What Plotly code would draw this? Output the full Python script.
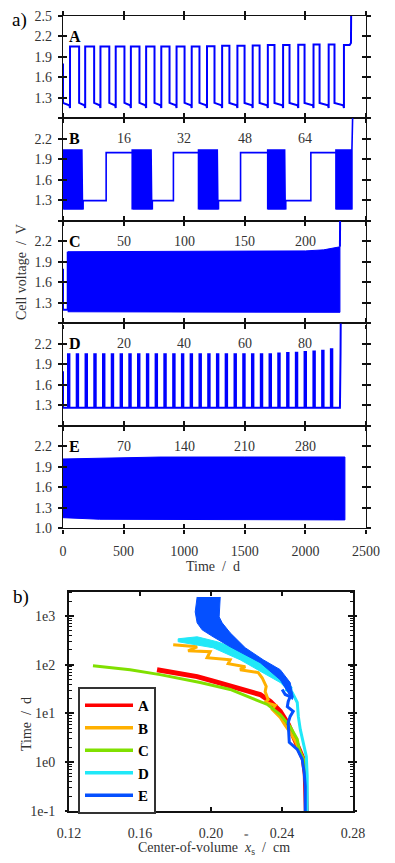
import plotly.graph_objects as go

# ---------------- panel a) data (time in d, voltage in V) ----------------
A_charge_on = [58, 183, 309, 435, 560, 686, 811, 937, 1062, 1188, 1313, 1439,
               1565, 1690, 1816, 1941, 2067, 2192, 2318]
A_charge_off = [133, 257, 382, 507, 631, 755, 879, 1003, 1126, 1250, 1373, 1498,
                1622, 1745, 1869, 1993, 2117, 2240, 2365]
A_charge_v = [2.05, 2.05, 2.05, 2.05, 2.05, 2.05, 2.05, 2.05, 2.05, 2.055, 2.06,
              2.06, 2.065, 2.07, 2.07, 2.075, 2.08, 2.08, 2.07]
A_discharge_v = [1.225, 1.19, 1.15]      # start, end, end-hook
A_end = 2376

B_burst_on = [0, 571, 1118, 1689, 2252]
B_burst_off = [166, 737, 1283, 1838, 2384]
B_burst_cycles = [16, 16, 16, 16, 16]
B_charge_step = [356, 911, 1465, 2045]
B_levels = {"charge": 2.047, "dis": 1.2, "hook": 1.165, "rest_low": 1.295, "rest_high": 1.997}

C_t = [39, 600, 1200, 1800, 2000, 2150, 2230, 2285]
C_top = [2.048, 2.05, 2.052, 2.055, 2.06, 2.075, 2.1, 2.12]
C_bot = [1.17, 1.165, 1.162, 1.162, 1.162, 1.162, 1.162, 1.162]
C_end = 2285

D_pulse_on = [41, 113, 186, 258, 330, 402, 475, 547, 619, 692, 764, 836, 909, 981,
              1053, 1126, 1198, 1270, 1342, 1415, 1487, 1559, 1632, 1704, 1776,
              1849, 1921, 1993, 2066, 2138, 2210]
D_peak_v = [2.05] * 24 + [2.06, 2.065, 2.07, 2.08, 2.09, 2.1, 2.12]
D_low_v = 1.267
D_pulse_w = 12
D_end = 2285

E_t = [0, 300, 800, 1500, 2326]
E_top = [2.016, 2.03, 2.044, 2.045, 2.045]
E_bot = [1.157, 1.134, 1.126, 1.124, 1.124]

cycle_labels = {
    "B": ["16", "32", "48", "64"],
    "C": ["50", "100", "150", "200"],
    "D": ["20", "40", "60", "80"],
    "E": ["70", "140", "210", "280"],
}
label_times = [500, 1000, 1500, 2000]

# ---------------- panel b) data (center-of-volume in cm, time in d) ----------------
bA_x = [0.1696, 0.1826, 0.1922, 0.2023, 0.2108, 0.2193, 0.2277, 0.2334, 0.2390,
        0.2435, 0.2469, 0.2492, 0.2520, 0.2531, 0.2537]
bA_t = [79, 65, 57, 45, 37, 31, 24.4, 17.6, 11, 6.0, 3.24, 2.0, 1.15, 0.57, 0.1]

bB_x = [0.1787, 0.1922, 0.1871, 0.1995, 0.1978, 0.2108, 0.2097, 0.2193, 0.2164,
        0.2266, 0.2288, 0.2311, 0.2305, 0.2322, 0.2305, 0.2362, 0.2345, 0.2390,
        0.2418, 0.2446, 0.2475, 0.2497, 0.2520, 0.2531, 0.2537]
bB_t = [256, 233, 193, 184, 139, 126, 105, 91, 79, 69, 54, 36, 28, 19.3, 16.8,
        14.6, 12.1, 8.3, 5.7, 4.1, 2.7, 1.84, 1.15, 0.57, 0.1]

bC_x = [0.1335, 0.1544, 0.1713, 0.1939, 0.2108, 0.2221, 0.2317, 0.2390, 0.2446,
        0.2486, 0.2497, 0.2520, 0.2531, 0.2537]
bC_t = [95, 79, 62.5, 43, 31, 21, 15.3, 9.5, 5.4, 2.94, 1.84, 1.15, 0.57, 0.1]

bD_x = [0.2418, 0.2458, 0.2486, 0.2492, 0.2503, 0.2520, 0.2537, 0.2542, 0.2542]
bD_t = [31, 26.8, 16.8, 8.7, 4.7, 2.56, 1.32, 0.52, 0.1]
bD_band_x = [0.2463, 0.2430, 0.2390, 0.2294, 0.2164, 0.2012, 0.1815, 0.1815,
             0.1922, 0.2035, 0.2164, 0.2294, 0.2418, 0.2458]
bD_band_t = [22, 31, 43, 69, 126, 222, 295, 339, 373, 295, 202, 115, 49, 34]

bE_x = [0.2401, 0.2418, 0.2446, 0.2435, 0.2430, 0.2463, 0.2446, 0.2435, 0.2441,
        0.2486, 0.2514, 0.2525, 0.2531, 0.2531]
bE_t = [31, 24.5, 22, 17.6, 13.8, 11, 8.7, 6.5, 2.56, 1.84, 1.15, 0.62, 0.32, 0.1]
bE_band_x = [0.1922, 0.1911, 0.1922, 0.1950, 0.2012, 0.2108, 0.2277, 0.2390, 0.2458,
             0.2463, 0.2446, 0.2390, 0.2294, 0.2193, 0.2108, 0.2063, 0.2046, 0.2052]
bE_band_t = [2445, 1207, 720, 518, 373, 233, 110, 49, 19.3,
             22, 43, 79, 126, 222, 450, 720, 955, 2445]

series_names = ["A", "B", "C", "D", "E"]
series_colors = ["#ff0000", "#ffb000", "#80e000", "#20e8f8", "#0550ff"]

FONT = "Liberation Serif, Times New Roman, DejaVu Serif, serif"
TXT = "#333333"
BLUE = "#0000ff"
W, H = 395, 863

# ---------------- build waveforms ----------------
def wave_A():
    t, v = [0, 0], [1.8, A_discharge_v[0]]
    n = len(A_charge_on)
    for i in range(n):
        on, off, vc = A_charge_on[i], A_charge_off[i], A_charge_v[i]
        t += [on - 6, on, on, off]
        v += [A_discharge_v[1], A_discharge_v[2], vc, vc]
        if i < n - 1:
            t += [off]
            v += [A_discharge_v[0]]
    t += [A_end, A_end + 2]
    v += [A_charge_v[-1] + 0.03, 2.7]
    return t, v


def wave_B():
    L = B_levels
    t, v = [0, 0], [1.8, L["dis"]]
    for j, (s, e) in enumerate(zip(B_burst_on, B_burst_off)):
        n = B_burst_cycles[j]
        p = (e - s) / n
        for k in range(n):
            t0 = s + k * p
            t += [t0, t0, t0 + 0.5 * p, t0 + 0.5 * p, t0 + p]
            v += [L["hook"], L["charge"], L["charge"], L["dis"], L["hook"]]
        if j < len(B_charge_step):
            st = B_charge_step[j]
            t += [e, st, st, B_burst_on[j + 1]]
            v += [L["rest_low"], L["rest_low"], L["rest_high"], L["rest_high"]]
        else:
            t += [e, e + 8]
            v += [L["charge"], 2.7]
    return t, v


def wave_D():
    t, v = [0, 0], [1.8, D_low_v]
    for on, pk in zip(D_pulse_on, D_peak_v):
        t += [on, on, on + D_pulse_w, on + D_pulse_w]
        v += [D_low_v, pk, pk, D_low_v]
    t += [D_end, D_end, D_end + 5, D_end + 7]
    v += [D_low_v, 2.07, 2.08, 2.7]
    return t, v


fig = go.Figure()

def add(**kw):
    kw.setdefault("showlegend", False)
    kw.setdefault("hoverinfo", "skip")
    fig.add_trace(go.Scatter(**kw))

# panel a) traces
ta, va = wave_A()
add(x=ta, y=va, mode="lines", line=dict(color=BLUE, width=2), xaxis="x", yaxis="y")
tb, vb = wave_B()
add(x=tb, y=vb, mode="lines", line=dict(color=BLUE, width=1.6), xaxis="x2", yaxis="y2")
add(x=C_t + C_t[::-1], y=C_top + C_bot[::-1], mode="lines", fill="toself",
    fillcolor=BLUE, line=dict(color=BLUE, width=1), xaxis="x3", yaxis="y3")
add(x=[0, 0, C_t[0], C_t[0]], y=[1.8, 1.2, 1.2, C_top[0]], mode="lines",
    line=dict(color=BLUE, width=2), xaxis="x3", yaxis="y3")
add(x=[C_end, C_end + 2], y=[C_top[-1], 2.7], mode="lines",
    line=dict(color=BLUE, width=2), xaxis="x3", yaxis="y3")
td, vd = wave_D()
add(x=td, y=vd, mode="lines", line=dict(color=BLUE, width=2), xaxis="x4", yaxis="y4")
add(x=E_t + E_t[::-1], y=E_top + E_bot[::-1], mode="lines", fill="toself",
    fillcolor=BLUE, line=dict(color=BLUE, width=1), xaxis="x5", yaxis="y5")

# panel b) traces
bdata = [(bA_x, bA_t, 5), (bB_x, bB_t, 3), (bC_x, bC_t, 3), (bD_x, bD_t, 3), (bE_x, bE_t, 3)]
bands = {3: (bD_band_x, bD_band_t), 4: (bE_band_x, bE_band_t)}
for i, (bx, bt, lw) in enumerate(bdata):
    c = series_colors[i]
    if i in bands:
        fx, ft = bands[i]
        add(x=fx, y=ft, mode="lines", fill="toself", fillcolor=c,
            line=dict(color=c, width=1), xaxis="x6", yaxis="y6")
    add(x=bx, y=bt, mode="lines", line=dict(color=c, width=lw), xaxis="x6", yaxis="y6")
# legend entries
for i, nm in enumerate(series_names):
    add(x=[None], y=[None], mode="lines", line=dict(color=series_colors[i], width=3.5),
        name="<b>%s</b>" % nm, showlegend=True, xaxis="x6", yaxis="y6")

# dummy traces for overlay (inside-tick) axes
for k in range(7, 13):
    add(x=[None], y=[None], xaxis="x%d" % k, yaxis="y%d" % k)

# ---------------- layout ----------------
bounds = [15.7, 118.3, 220.8, 323.4, 425.9, 528.4]
xdomA = [63 / W, 366 / W]
tickfont = dict(family=FONT, size=14, color=TXT)
layout = dict(width=W, height=H, margin=dict(l=0, r=0, t=0, b=0, autoexpand=False),
              paper_bgcolor="white", plot_bgcolor="rgba(0,0,0,0)",
              font=dict(family=FONT, size=14, color=TXT))

AX = dict(showgrid=False, zeroline=False, automargin=False)
xvals = [0, 500, 1000, 1500, 2000, 2500]
yvals = [1.0, 1.3, 1.6, 1.9, 2.2, 2.5]
LW = 1.3
for i in range(5):
    n = i + 1
    xs = "" if n == 1 else str(n)
    ydom = [1 - bounds[i + 1] / H, 1 - bounds[i] / H]
    ytext = ["", "1.3", "1.6", "1.9", "2.2", ""]
    if i == 0:
        ytext[-1] = "2.5"
    if i == 4:
        ytext[0] = "1.0"
    xtext = [str(x) for x in xvals] if i == 4 else [""] * 6
    layout["xaxis" + xs] = dict(AX, domain=xdomA, range=[0, 2500], anchor="y" + xs,
                                tickvals=xvals, ticktext=xtext, ticks="outside", ticklen=4,
                                tickwidth=1.5, tickcolor="#111", showline=True, linewidth=LW,
                                linecolor="#111", mirror="allticks",
                                tickfont=tickfont, ticklabelstandoff=6)
    layout["yaxis" + xs] = dict(AX, domain=ydom, range=[1.0, 2.5], anchor="x" + xs,
                                tickvals=yvals, ticktext=ytext, ticks="outside", ticklen=4,
                                tickwidth=1.5, tickcolor="#111", showline=True, linewidth=LW,
                                linecolor="#111", mirror="allticks",
                                tickfont=tickfont, ticklabelstandoff=3)
    o = str(7 + i)
    layout["xaxis" + o] = dict(AX, overlaying="x" + xs, anchor="y" + o, range=[0, 2500],
                               tickvals=xvals, showticklabels=False, ticks="inside",
                               ticklen=4, tickwidth=1.5, tickcolor="#111", showline=False,
                               mirror="allticks")
    layout["yaxis" + o] = dict(AX, overlaying="y" + xs, anchor="x" + o, range=[1.0, 2.5],
                               tickvals=yvals, showticklabels=False, ticks="inside",
                               ticklen=4, tickwidth=1.5, tickcolor="#111", showline=False,
                               mirror="allticks")

# panel b) axes
xdomB = [69 / W, 353 / W]
ydomB = [1 - 811 / H, 1 - 592 / H]
bx_vals = [0.12, 0.16, 0.20, 0.24, 0.28]
by_vals = [0.1, 1, 10, 100, 1000]
layout["xaxis6"] = dict(AX, domain=xdomB, range=[0.12, 0.28], anchor="y6", tickvals=bx_vals,
                        ticktext=["0.12", "0.16", "0.20", "0.24", "0.28"], ticks="inside",
                        ticklen=4, tickwidth=1.5, tickcolor="#111", showline=True, linewidth=2,
                        linecolor="#111", mirror="allticks",
                        tickfont=tickfont, ticklabelstandoff=8)
layout["yaxis6"] = dict(AX, domain=ydomB, type="log", range=[-1, 3.49], anchor="x6",
                        tickvals=by_vals, ticktext=["1e-1", "1e0", "1e1", "1e2", "1e3"],
                        ticks="outside", ticklen=2, tickwidth=1.5, tickcolor="#111",
                        showline=True, linewidth=2, linecolor="#111", mirror="allticks",
                        tickfont=tickfont, ticklabelstandoff=7,
                        minor=dict(ticks="inside", ticklen=3, tickwidth=1, tickcolor="#111",
                                   dtick="D1", showgrid=False))
layout["xaxis12"] = dict(AX, overlaying="x6", anchor="y12", range=[0.12, 0.28],
                         tickvals=bx_vals, showticklabels=False, ticks="", showline=False)
layout["yaxis12"] = dict(AX, overlaying="y6", anchor="x12", type="log", range=[-1, 3.49],
                         tickvals=by_vals, showticklabels=False, ticks="inside", ticklen=5,
                         tickwidth=1.5, tickcolor="#111", showline=False, mirror="allticks")

layout["legend"] = dict(x=78 / W, y=1 - 687 / H, xanchor="left", yanchor="top",
                        bordercolor="#333", borderwidth=2, bgcolor="white",
                        font=dict(family=FONT, size=15, color="black"), itemwidth=48,
                        tracegroupgap=0)

ann = []
def paper_text(text, x, y, size=14, angle=0, xanchor="center", color=TXT, pad=1):
    ann.append(dict(text=text, x=x / W, y=1 - y / H, xref="paper", yref="paper",
                    showarrow=False, textangle=angle, xanchor=xanchor, yanchor="middle",
                    borderpad=pad, font=dict(family=FONT, size=size, color=color)))

paper_text("a)", 10, 20, size=19, xanchor="left", color="black")
paper_text("b)", 11, 597, size=19, xanchor="left", color="black")
paper_text("Cell voltage  /  V", 21, 272, angle=-90)
paper_text("Time  /  d", 213, 566)
paper_text("Center-of-volume", 240, 847, xanchor="right")
paper_text("<i>x</i><sub>s</sub>  /  cm", 242, 848, xanchor="left")
paper_text("=", 246, 835, size=8, pad=0)
paper_text("Time  /  d", 26, 724, angle=-90)

for i, nm in enumerate(series_names):
    xs = "" if i == 0 else str(i + 1)
    ann.append(dict(text="<b>%s</b>" % nm, x=0.012, y=2.2, xref="x%s domain" % xs,
                    yref="y" + xs, showarrow=False, xanchor="left", yanchor="middle",
                    font=dict(family=FONT, size=16, color="black")))
    if nm in cycle_labels:
        for lt, lab in zip(label_times, cycle_labels[nm]):
            ann.append(dict(text=lab, x=lt, y=2.2, xref="x" + xs, yref="y" + xs,
                            showarrow=False, xanchor="center", yanchor="middle",
                            font=dict(family=FONT, size=14, color=TXT)))
layout["annotations"] = ann

fig.update_layout(**layout)
fig.write_html("out.html", config={"displayModeBar": False},
               post_script="document.body.style.margin='0';document.body.style.padding='0';")
